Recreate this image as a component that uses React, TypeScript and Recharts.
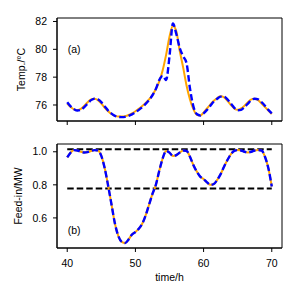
import React from 'react';
import { LineChart, Line, XAxis, YAxis, ReferenceLine, ReferenceArea, ReferenceDot } from 'recharts';

const time = [
  40, 40.5, 41, 41.5, 42, 42.5, 43, 43.5, 44, 44.5, 45, 45.5, 46, 46.5, 47, 47.5, 48, 48.5, 49, 49.5,
  50, 50.5, 51, 51.5, 52, 52.5, 53, 53.5, 54, 54.5, 55, 55.5, 56, 56.5, 57, 57.5, 58, 58.5, 59, 59.5,
  60, 60.5, 61, 61.5, 62, 62.5, 63, 63.5, 64, 64.5, 65, 65.5, 66, 66.5, 67, 67.5, 68, 68.5, 69, 69.5, 70,
];

// orange (solid) temperature
const tempOpt = [
  76.1, 75.85, 75.68, 75.63, 75.72, 75.95, 76.2, 76.4, 76.45, 76.35, 76.1, 75.8, 75.55, 75.35, 75.22, 75.17, 75.17, 75.2, 75.28, 75.4,
  75.55, 75.72, 75.92, 76.15, 76.4, 76.72, 77.15, 77.7, 78.5, 79.6, 80.9, 81.7, 81.3, 79.9, 78.7, 77.4, 76.4, 75.7, 75.3, 75.25,
  75.45, 75.75, 76.05, 76.3, 76.5, 76.62, 76.55, 76.3, 76.0, 75.75, 75.65, 75.75, 75.95, 76.2, 76.4, 76.45, 76.35, 76.1, 75.85, 75.6, 75.35,
];

// blue (dashed) temperature
const tempSim = [
  76.2, 75.9, 75.7, 75.6, 75.65, 75.85, 76.1, 76.35, 76.45, 76.4, 76.2, 75.9, 75.6, 75.38, 75.22, 75.15, 75.13, 75.15, 75.22, 75.33,
  75.48, 75.65, 75.85, 76.08, 76.35, 76.7, 77.15, 77.8, 78.1, 77.8, 79.5, 81.85, 81.1, 80.1, 79.5, 79.0, 77.2, 75.9, 75.35, 75.25,
  75.4, 75.65, 75.95, 76.25, 76.45, 76.6, 76.6, 76.4, 76.1, 75.8, 75.62, 75.65, 75.85, 76.1, 76.35, 76.45, 76.4, 76.2, 75.95, 75.65, 75.4,
];

// feed-in (orange solid and blue dashed overlap)
const feedOpt = [
  0.966, 0.995, 1.01, 1.008, 1.0, 0.996, 0.998, 1.005, 1.01, 1.008, 0.975, 0.9, 0.795, 0.68, 0.565, 0.49, 0.455, 0.448, 0.47, 0.5,
  0.515, 0.535, 0.565, 0.615, 0.68, 0.745, 0.8, 0.885, 0.96, 1.005, 0.995, 0.975, 0.98, 0.995, 1.008, 1.005, 0.97, 0.92, 0.88, 0.85,
  0.835, 0.815, 0.8, 0.805, 0.83, 0.865, 0.91, 0.95, 0.985, 1.005, 1.01, 1.008, 1.0, 0.996, 1.0, 1.008, 1.01, 1.008, 0.97, 0.9, 0.79,
];
const feedSim = [
  0.966, 0.995, 1.01, 1.008, 1.0, 0.996, 0.998, 1.005, 1.01, 1.008, 0.975, 0.9, 0.795, 0.68, 0.565, 0.49, 0.455, 0.448, 0.47, 0.5,
  0.515, 0.535, 0.565, 0.615, 0.68, 0.745, 0.8, 0.885, 0.96, 1.005, 0.995, 0.975, 0.98, 0.995, 1.008, 1.005, 0.97, 0.92, 0.88, 0.85,
  0.835, 0.815, 0.8, 0.805, 0.83, 0.865, 0.91, 0.95, 0.985, 1.005, 1.01, 1.008, 1.0, 0.996, 1.0, 1.008, 1.01, 1.008, 0.97, 0.9, 0.79,
];

const xTicks = [40, 50, 60, 70];
const xDomain = [38.5, 71.5];
const tempTicks = [76, 78, 80, 82];
const tempDomain = [74.85, 82.25];
const feedTicks = [0.6, 0.8, 1.0];
const feedDomain = [0.418, 1.047];
const feedLimits = [1.015, 0.778];
const tStart = 40;
const tEnd = 70;

const tempData = time.map((t, i) => ({ t, opt: tempOpt[i], sim: tempSim[i] }));
const feedData = time.map((t, i) => ({ t, opt: feedOpt[i], sim: feedSim[i] }));

const FONT = '"Liberation Sans", Arial, Helvetica, sans-serif';
const tickStyle = { fill: '#000', fontSize: 10.5, fontFamily: FONT };
const labelStyle = { fill: '#000', fontSize: 10.5, fontFamily: FONT, textAnchor: 'middle' as const };
const ORANGE = '#FFA500';
const BLUE = '#0000FF';

export default function App() {
  return (
    <div style={{ position: 'absolute', left: 0, top: 0, width: 300, height: 300, background: '#fff', fontFamily: FONT }}>
      <div style={{ position: 'absolute', left: 0, top: 0 }}>
        <LineChart width={300} height={130} data={tempData} margin={{ top: 18, right: 18, bottom: 0, left: 0 }}>
          <ReferenceArea x1={xDomain[0]} x2={xDomain[1]} y1={tempDomain[0]} y2={tempDomain[1]} fill="none" fillOpacity={0} stroke="#000" strokeWidth={1} ifOverflow="visible" />
          <XAxis
            dataKey="t"
            type="number"
            domain={xDomain}
            ticks={xTicks}
            allowDataOverflow
            height={9}
            tickSize={4}
            tickFormatter={() => ''}
            axisLine={{ stroke: '#000' }}
            tickLine={{ stroke: '#000' }}
            tick={tickStyle}
          />
          <YAxis
            type="number"
            domain={tempDomain}
            ticks={tempTicks}
            allowDataOverflow
            width={57}
            tickSize={4}
            tickMargin={6}
            axisLine={{ stroke: '#000' }}
            tickLine={{ stroke: '#000' }}
            tick={tickStyle}
            label={{ value: 'Temp./°C', angle: -90, position: 'insideLeft', offset: 21, style: labelStyle }}
          />
          <Line dataKey="opt" type="monotone" stroke={ORANGE} strokeWidth={2} dot={false} isAnimationActive={false} />
          <Line dataKey="sim" type="monotone" stroke={BLUE} strokeWidth={2.4} strokeDasharray="6.5 3" dot={false} isAnimationActive={false} />
          <ReferenceDot x={tStart} y={80} r={0} fill="none" stroke="none" label={{ value: '(a)', position: 'right', offset: 0.5, style: { fill: '#000', fontSize: 10.5, fontFamily: FONT } }} />
        </LineChart>
      </div>
      <div style={{ position: 'absolute', left: 0, top: 130 }}>
        <LineChart width={300} height={170} data={feedData} margin={{ top: 14, right: 18, bottom: 0, left: 0 }}>
          <ReferenceArea x1={xDomain[0]} x2={xDomain[1]} y1={feedDomain[0]} y2={feedDomain[1]} fill="none" fillOpacity={0} stroke="#000" strokeWidth={1} ifOverflow="visible" />
          <XAxis
            dataKey="t"
            type="number"
            domain={xDomain}
            ticks={xTicks}
            allowDataOverflow
            height={52}
            tickSize={4}
            tickMargin={8}
            axisLine={{ stroke: '#000' }}
            tickLine={{ stroke: '#000' }}
            tick={tickStyle}
            label={{ value: 'time/h', position: 'insideBottom', offset: 19, style: labelStyle }}
          />
          <YAxis
            type="number"
            domain={feedDomain}
            ticks={feedTicks}
            allowDataOverflow
            width={57}
            tickSize={4}
            tickMargin={6}
            tickFormatter={(v: number) => v.toFixed(1)}
            axisLine={{ stroke: '#000' }}
            tickLine={{ stroke: '#000' }}
            tick={tickStyle}
            label={{ value: 'Feed-in/MW', angle: -90, position: 'insideLeft', offset: 18, style: labelStyle }}
          />
          {feedLimits.map((v) => (
            <ReferenceLine
              key={v}
              segment={[{ x: tStart, y: v }, { x: tEnd, y: v }]}
              stroke="#000"
              strokeWidth={2}
              strokeDasharray="6.5 3"
            />
          ))}
          <Line dataKey="opt" type="monotone" stroke={ORANGE} strokeWidth={2} dot={false} isAnimationActive={false} />
          <Line dataKey="sim" type="monotone" stroke={BLUE} strokeWidth={2.4} strokeDasharray="6.5 3" dot={false} isAnimationActive={false} />
          <ReferenceDot x={tStart} y={0.525} r={0} fill="none" stroke="none" label={{ value: '(b)', position: 'right', offset: 0.5, style: { fill: '#000', fontSize: 10.5, fontFamily: FONT } }} />
        </LineChart>
      </div>
    </div>
  );
}
